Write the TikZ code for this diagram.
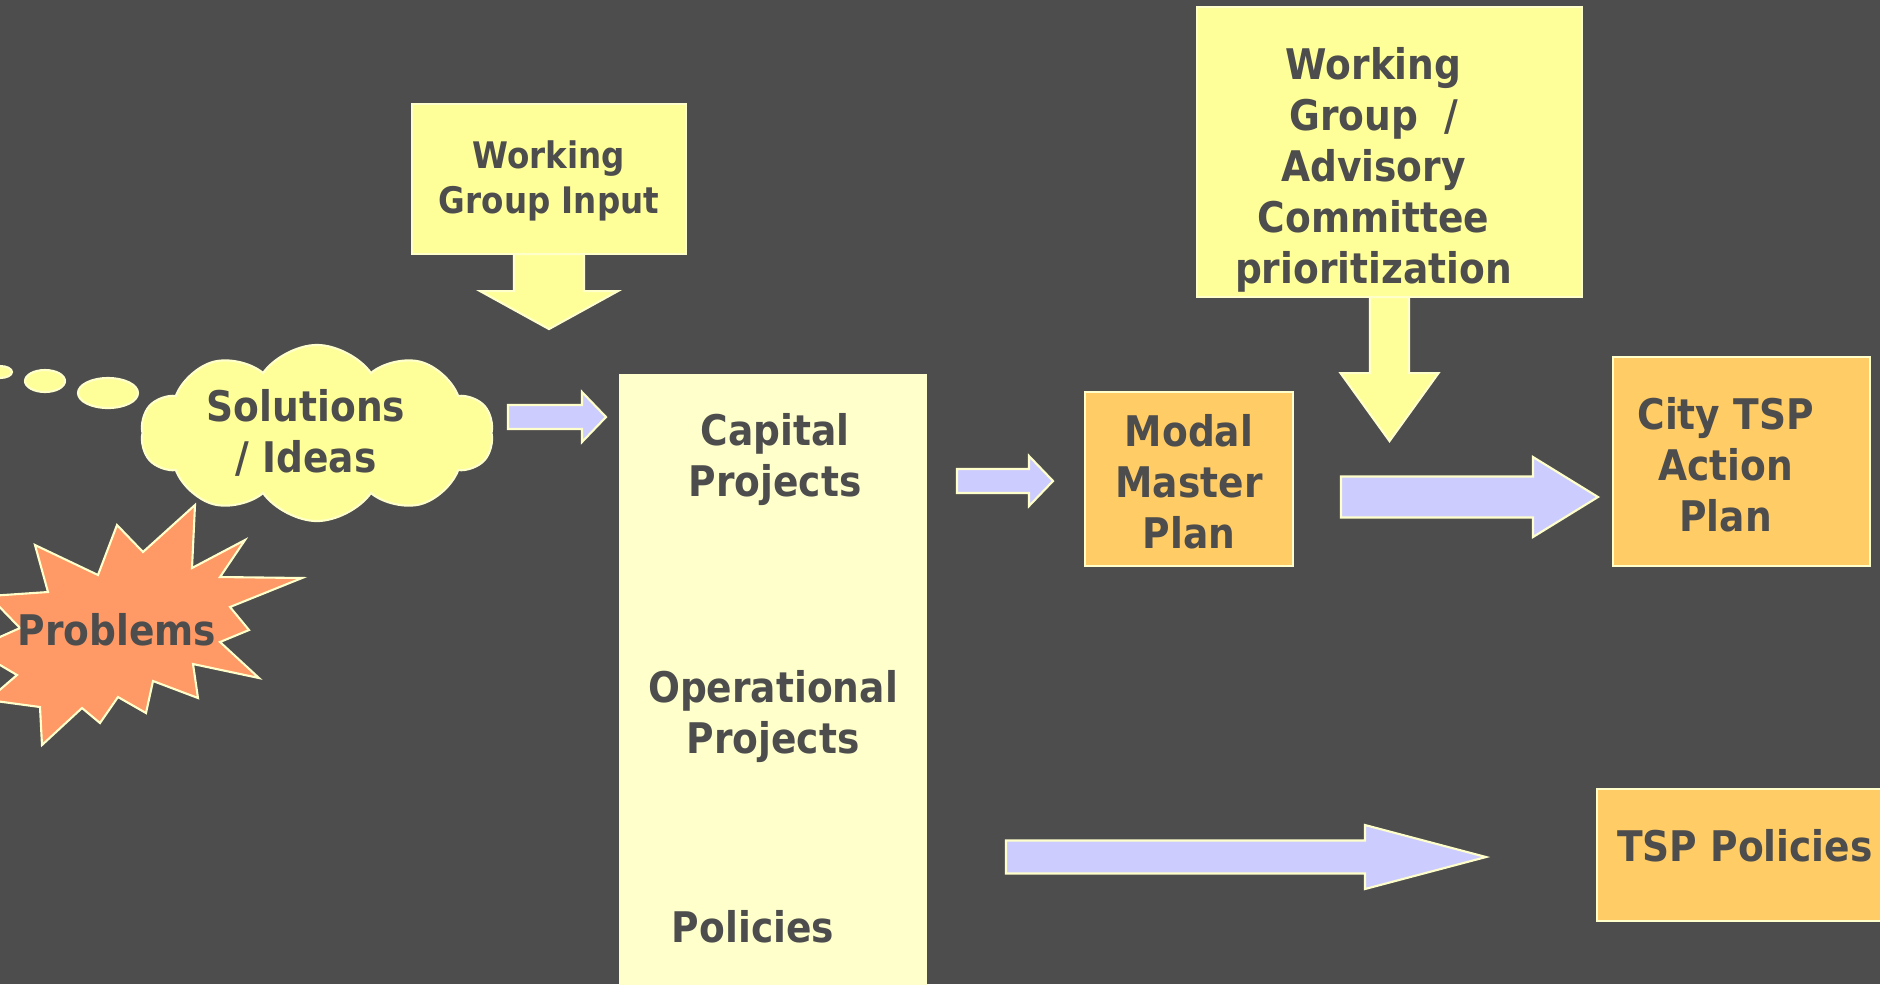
\documentclass[tikz,border=0pt]{standalone}
\usepackage{fontspec}
\setmainfont{DejaVu Sans}[FakeStretch=0.89]
\usetikzlibrary{calc,shapes.symbols}

\definecolor{slidebg}{RGB}{77,77,77}
\definecolor{inktext}{RGB}{77,77,77}
\definecolor{paleyellow}{RGB}{255,255,153}
\definecolor{cream}{RGB}{255,255,204}
\definecolor{amber}{RGB}{255,204,102}
\definecolor{salmon}{RGB}{255,153,102}
\definecolor{lavender}{RGB}{204,204,255}

\tikzset{
  rim/.style={draw=cream,line width=0.6pt},
  box/.style={rim,rectangle,inner sep=0pt,outer sep=0pt},
  txt/.style={text=inktext,font=\fontsize{12}{14.5}\selectfont\bfseries,align=center,inner sep=0pt},
  smalltxt/.style={txt,font=\fontsize{10.4}{12.8}\selectfont\bfseries},
  flowarrow/.style={rim,fill=lavender},
  downarrow/.style={rim,fill=paleyellow}
}

% tail, length, shaft half width, head half width, head length
\newcommand{\blockarrow}[6][]{%
  \draw[flowarrow,shift={(#2)},#1] (0,-#4) -- ({#3-#6},-#4) -- ({#3-#6},-#5) -- (#3,0)
    -- ({#3-#6},#5) -- ({#3-#6},#4) -- (0,#4) -- cycle;}

\begin{document}
\begin{tikzpicture}[x=0.01cm,y=-0.01cm]
    \useasboundingbox (0,0) rectangle (1880,984);
    \clip (0,0) rectangle (1880,984);
    \fill[slidebg] (0,0) rectangle (1880,984);

    % thought bubbles and cloud
    \draw[rim,fill=paleyellow] (0,372) ellipse [x radius=12,y radius=6];
    \draw[rim,fill=paleyellow] (45,381) ellipse [x radius=20,y radius=11];
    \draw[rim,fill=paleyellow] (108,393) ellipse [x radius=30,y radius=15];
    \node[rim,fill=paleyellow,cloud,cloud puffs=10,cloud puff arc=110,cloud ignores aspect,
      minimum width=3.52cm,minimum height=1.76cm,inner sep=0pt] (cloud) at (317,433) {};
    \node[txt] (soltext) at ($(cloud)+(-11,0)$) {Solutions\\/ Ideas};

    % problems
    \draw[rim,fill=salmon] (195,505) -- (192,568) -- (245,540) -- (220,577) -- (302,578)
      -- (230,607) -- (249,630) -- (220,642) -- (259,678) -- (193,664) -- (198,698)
      -- (153,681) -- (146,713) -- (118,697) -- (100,723) -- (82,708) -- (42,745)
      -- (40,707) -- (-12,700) -- (17,675) -- (-27,649) -- (20,628) -- (-11,596)
      -- (48,592) -- (35,545) -- (98,575) -- (117,525) -- (143,552) -- cycle;
    \node[txt] (probtext) at (117,630) {Problems};

    % boxes
    \node[box,fill=paleyellow,minimum width=2.74cm,minimum height=1.5cm] (wginput) at (549,179) {};
    \node[smalltxt] (wgintext) at ($(wginput)+(0,2)$) {Working\\Group Input};
    \node[box,fill=cream,minimum width=3.06cm,minimum height=6.5cm] (column) at (773,700) {};
    \node[txt] (captext) at ($(column.north)+(2,85)$) {Capital\\Projects};
    \node[txt] (optext) at ($(column.north)+(0,342)$) {Operational\\Projects};
    \node[txt] (poltext) at ($(column.north)+(-20,552)$) {Policies};
    \node[box,fill=amber,minimum width=2.08cm,minimum height=1.74cm] (modal) at (1189,479) {};
    \node[txt] (modaltext) at ($(modal)+(0,3)$) {Modal\\Master\\Plan};
    \node[box,fill=paleyellow,minimum width=3.85cm,minimum height=2.9cm] (wgadv) at (1389.5,152) {};
    \node[txt] (wgadvtext) at ($(wgadv)+(-16,18)$) {Working\\Group~~/\\Advisory\\Committee\\prioritization};
    \node[box,fill=amber,minimum width=2.57cm,minimum height=2.09cm] (city) at (1741.5,461.5) {};
    \node[txt] (citytext) at ($(city)+(-16,3)$) {City TSP\\Action\\Plan};
    \node[box,fill=amber,minimum width=3.03cm,minimum height=1.32cm] (tsppol) at (1748.5,855) {};
    \node[txt] (tsptext) at ($(tsppol.west)+(148,-9)$) {TSP Policies};

    % arrows
    \coordinate (a1) at (508,417);
    \coordinate (a2) at (wginput.south);
    \coordinate (a3) at (957,481);
    \coordinate (a4) at (wgadv.south);
    \coordinate (a5) at (1341,497);
    \coordinate (a6) at (1006,857);
    \blockarrow{a1}{98}{12}{25}{24}
    \blockarrow[downarrow,rotate=-90]{a2}{75}{35}{69}{38}
    \blockarrow{a3}{96}{12}{25}{24}
    \blockarrow[downarrow,rotate=-90]{a4}{144}{19.5}{49}{68}
    \blockarrow{a5}{257}{20.5}{40}{65}
    \blockarrow{a6}{480}{16.5}{32}{121}
  \end{tikzpicture}
\end{document}
